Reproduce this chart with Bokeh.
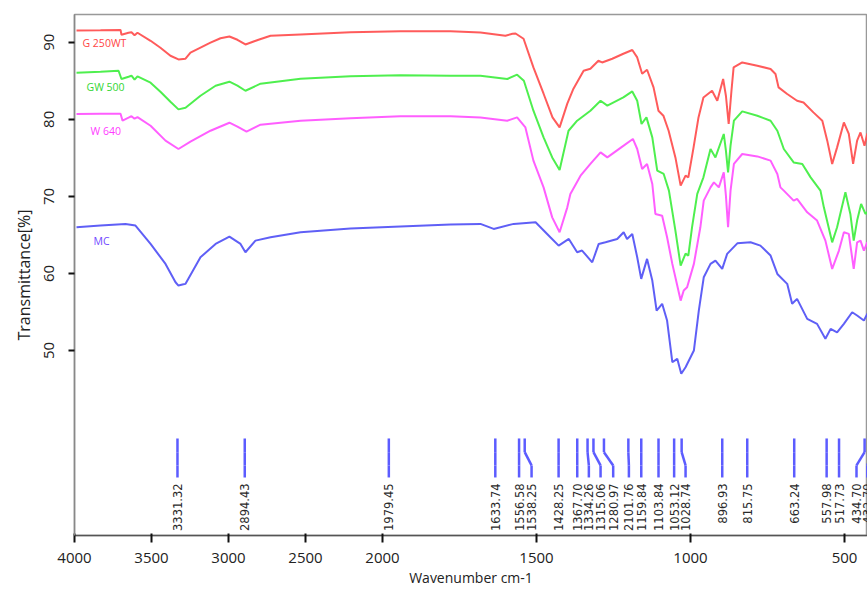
import math
from bokeh.plotting import figure
from bokeh.models import ColumnDataSource, CustomJSTransform, FixedTicker, Range1d, Title
from bokeh.transform import transform
from bokeh.core.properties import value
from bokeh.embed import file_html
from bokeh.resources import INLINE

# ---------------- data (wavenumber cm-1, transmittance %) ----------------
g250_wn = [3987, 3831, 3701, 3695, 3649, 3630, 3610, 3591, 3506, 3442, 3377, 3325, 3279, 3247, 3182, 3117,
           3052, 2994, 2942, 2890, 2805, 2727, 2532, 2208, 1942, 1779, 1682, 1601, 1578, 1568, 1542, 1510,
           1477, 1448, 1425, 1400, 1380, 1347, 1325, 1299, 1287, 1254, 1218, 1189, 1173, 1157, 1141, 1120,
           1104, 1088, 1071, 1049, 1032, 1016, 1007, 990, 974, 958, 930, 913, 894, 885, 876, 867, 860, 832,
           783, 740, 724, 714, 686, 654, 633, 601, 572, 556, 540, 524, 502, 486, 472, 459, 448, 435, 426, 415]
g250_t = [91.53, 91.56, 91.60, 90.97, 91.23, 91.30, 90.91, 91.23, 90.19, 89.29, 88.25, 87.77, 87.86, 88.64, 89.29, 89.94,
          90.52, 90.75, 90.32, 89.71, 90.32, 90.84, 91.01, 91.30, 91.43, 91.43, 91.27, 90.84, 91.10, 91.14, 90.45, 86.73,
          83.32, 80.25, 78.95, 82.03, 83.97, 86.30, 86.56, 87.60, 87.38, 87.86, 88.51, 88.99, 88.03, 85.92, 86.43, 84.14,
          81.12, 80.47, 78.52, 75.06, 71.39, 72.69, 72.47, 76.36, 80.25, 82.84, 83.71, 82.41, 85.23, 83.06, 79.39, 83.71, 86.73, 87.38,
          86.95, 86.53, 85.88, 84.14, 83.28, 82.41, 82.19, 80.90, 79.82, 77.23, 74.21, 76.36, 79.60, 78.10, 74.21, 77.23, 78.30, 76.58, 78.14, 77.90]

gw500_wn = [3987, 3831, 3714, 3695, 3649, 3630, 3610, 3591, 3506, 3442, 3377, 3325, 3279, 3182, 3084, 2994,
            2942, 2890, 2792, 2532, 2208, 1942, 1779, 1682, 1595, 1563, 1541, 1510, 1477, 1449, 1425, 1396,
            1368, 1325, 1292, 1270, 1218, 1189, 1173, 1159, 1143, 1124, 1108, 1087, 1070, 1049, 1032, 1016,
            1007, 995, 978, 958, 935, 919, 892, 885, 878, 870, 859, 832, 783, 740, 718, 697, 665, 637, 610,
            578, 567, 540, 524, 497, 481, 470, 459, 446, 432, 415]
gw500_t = [86.05, 86.18, 86.30, 85.23, 85.53, 85.66, 85.14, 85.57, 84.75, 83.58, 82.29, 81.29, 81.51, 83.06, 84.36, 84.88,
           84.36, 83.71, 84.62, 85.27, 85.59, 85.72, 85.66, 85.66, 85.23, 85.79, 85.01, 81.12, 77.66, 75.06, 73.43, 78.52,
           79.82, 81.12, 82.41, 81.77, 82.84, 83.62, 82.41, 79.39, 80.25, 77.66, 73.34, 72.91, 70.75, 65.56, 61.02, 62.58,
           62.32, 65.99, 70.32, 72.47, 76.15, 75.06, 78.10, 75.93, 73.12, 76.58, 79.82, 81.03, 80.47, 79.82, 78.52, 76.15, 74.41, 74.21, 72.47,
           70.75, 68.58, 64.04, 65.99, 70.53, 67.72, 64.26, 66.86, 69.02, 67.72, 68.41]

w640_wn = [3987, 3831, 3701, 3688, 3649, 3630, 3610, 3591, 3506, 3409, 3325, 3247, 3117, 2994, 2942, 2883,
           2792, 2532, 2208, 1942, 1779, 1682, 1595, 1563, 1536, 1510, 1477, 1449, 1425, 1400, 1390, 1357,
           1325, 1292, 1270, 1217, 1187, 1173, 1157, 1141, 1124, 1114, 1092, 1076, 1059, 1043, 1032, 1022,
           1011, 989, 968, 957, 935, 924, 908, 892, 885, 878, 870, 859, 832, 783, 740, 718, 708, 697, 665,
           654, 621, 589, 562, 540, 518, 502, 486, 470, 459, 448, 437, 426, 415]
w640_t = [80.69, 80.73, 80.73, 79.82, 80.21, 80.41, 80.08, 80.28, 79.17, 77.23, 76.15, 77.10, 78.52, 79.56, 79.04, 78.40,
          79.30, 79.82, 80.15, 80.41, 80.41, 80.25, 79.82, 80.25, 78.95, 74.64, 71.17, 67.28, 65.34, 68.58, 70.32, 72.69,
          74.21, 75.71, 75.06, 76.58, 77.45, 76.15, 73.56, 74.21, 71.61, 67.72, 67.50, 64.69, 61.24, 58.43, 56.48, 57.78,
          58.21, 61.24, 65.99, 69.45, 71.17, 71.82, 71.17, 73.12, 70.10, 65.99, 70.75, 74.21, 75.50, 75.19, 74.64, 72.91, 71.17, 70.75, 69.45,
          69.67, 67.93, 66.86, 64.26, 60.59, 62.97, 65.34, 65.13, 60.59, 64.04, 64.26, 62.97, 64.04, 63.60]

mc_wn = [3987, 3831, 3669, 3604, 3506, 3409, 3344, 3325, 3299, 3279, 3182, 3084, 2994, 2922, 2890, 2825,
         2727, 2532, 2208, 1942, 1779, 1682, 1639, 1574, 1503, 1455, 1428, 1395, 1368, 1352, 1319, 1298,
         1276, 1238, 1217, 1206, 1189, 1173, 1160, 1141, 1124, 1110, 1092, 1076, 1059, 1043, 1030, 1016,
         989, 973, 957, 935, 919, 897, 881, 848, 805, 773, 740, 718, 686, 670, 654, 621, 589, 562, 545,
         524, 502, 475, 459, 437, 426, 415]
mc_t = [65.99, 66.21, 66.43, 66.21, 63.83, 61.24, 58.86, 58.43, 58.56, 58.65, 62.10, 63.83, 64.78, 63.83, 62.75, 64.26,
        64.69, 65.34, 65.82, 66.08, 66.34, 66.43, 65.78, 66.43, 66.64, 64.69, 63.61, 64.48, 62.75, 62.97, 61.45, 63.83,
        64.04, 64.48, 65.34, 64.48, 65.13, 62.10, 59.30, 61.89, 59.08, 55.19, 56.06, 53.89, 48.48, 48.92, 46.98, 47.83,
        50.00, 55.19, 59.50, 61.24, 61.67, 60.59, 62.54, 63.91, 64.04, 63.61, 62.32, 59.94, 58.65, 56.06, 56.70, 54.11, 53.46, 51.52, 52.81,
        52.37, 53.46, 54.97, 54.54, 53.89, 54.76, 54.90]

series_names = ["G 250WT", "GW 500", "W 640", "MC"]

peak_wn = [3331.32, 2894.43, 1979.45, 1633.74, 1556.58, 1538.25, 1428.25, 1367.70, 1334.26, 1315.06, 1280.97,
           1201.76, 1159.84, 1103.84, 1053.12, 1028.74, 896.93, 815.75, 663.24, 557.98, 517.73, 434.70, 410.0]
peak_labels = ["3331.32", "2894.43", "1979.45", "1633.74", "1556.58", "1538.25", "1428.25", "1367.70", "1334.26",
               "1315.06", "1280.97", "2101.76", "1159.84", "1103.84", "1053.12", "1028.74", "896.93", "815.75",
               "663.24", "557.98", "517.73", "434.70", "432.79"]
peak_label_wn = [3331.32, 2894.43, 1979.45, 1633.74, 1556.58, 1516.0, 1428.25, 1367.70, 1330.0, 1292.0, 1251.0,
                 1200.0, 1159.84, 1103.84, 1053.12, 1016.0, 896.93, 815.75, 663.24, 557.98, 517.73, 461.0, 426.0]

x_tick_wn = [4000, 3500, 3000, 2500, 2000, 1500, 1000, 500]
y_ticks = [50, 60, 70, 80, 90]

# ---------------- styles / layout ----------------
colors = ["#ff5252", "#45ee45", "#ff55ff", "#5656f6"]
label_colors = ["#ff4545", "#33d633", "#ff3cff", "#7048ff"]
label_pos = [(3948, 89.94), (3922, 84.23), (3896, 78.53), (3877, 64.26)]

# piecewise wavenumber axis: region above 2000 cm-1 is compressed by 2
BREAK = 2000.0
def to_axis(w):
    return BREAK + (w - BREAK) / 2.0 if w > BREAK else w

wn_tf = CustomJSTransform(
    func="return x > 2000 ? 2000 + (x - 2000) / 2 : x;",
    v_func="""
    const out = new Float64Array(xs.length);
    for (let i = 0; i < xs.length; i++) {
        const w = xs[i];
        out[i] = w > 2000 ? 2000 + (w - 2000) / 2 : w;
    }
    return out;
    """,
)

p = figure(width=867, height=592, output_backend="svg", toolbar_location=None,
           x_range=Range1d(to_axis(4000), 425.3), y_range=Range1d(26.0, 93.6),
           min_border_left=74, min_border_right=0, min_border_top=14, min_border_bottom=57)

p.background_fill_color = "white"
p.border_fill_color = "white"
p.outline_line_color = "#999999"
p.outline_line_width = 1.5
p.xgrid.visible = False
p.ygrid.visible = False

wn_lists = [g250_wn, gw500_wn, w640_wn, mc_wn]
t_lists = [g250_t, gw500_t, w640_t, mc_t]
for wn, t, c in zip(wn_lists, t_lists, colors):
    src = ColumnDataSource(dict(x=wn, y=t))
    p.line(x=transform("x", wn_tf), y="y", source=src, line_color=c, line_width=2, line_alpha=0.95)

# series labels
lab_src = ColumnDataSource(dict(x=[q[0] for q in label_pos], y=[q[1] for q in label_pos],
                                text=series_names, color=label_colors))
p.text(x=transform("x", wn_tf), y="y", text="text", text_color="color", source=lab_src,
       text_align="left", text_baseline="middle", text_font=value("Open Sans"), text_font_size="10.5px")

# peak markers (vertical leaders bending toward their labels)
y_top, y_b1, y_b2, y_bot, y_lab = 38.59, 36.81, 35.09, 33.53, 32.76
x0 = []; x1 = []; y0 = []; y1 = []
for w, lw in zip(peak_wn, peak_label_wn):
    x0 += [w, w, lw]
    x1 += [w, lw, lw]
    y0 += [y_top, y_b1, y_b2]
    y1 += [y_b1, y_b2, y_bot]
seg_src = ColumnDataSource(dict(x0=x0, x1=x1, y0=y0, y1=y1))
p.segment(x0=transform("x0", wn_tf), x1=transform("x1", wn_tf), y0="y0", y1="y1", source=seg_src,
          line_color="#5c5cff", line_width=2.5, line_join="round")

pk_src = ColumnDataSource(dict(x=peak_label_wn, y=[y_lab] * len(peak_label_wn), text=peak_labels))
p.text(x=transform("x", wn_tf), y="y", text="text", source=pk_src, angle=math.pi / 2,
       text_align="right", text_baseline="middle", text_font=value("DejaVu Sans"),
       text_font_size="11.5px", text_color="#2a2a2a")

# axes
p.xaxis.ticker = FixedTicker(ticks=[to_axis(w) for w in x_tick_wn])
p.xaxis.major_label_overrides = {int(to_axis(w)): str(w) for w in x_tick_wn}
p.xaxis.minor_tick_line_color = None
p.xaxis.major_tick_in = 2
p.xaxis.major_tick_out = 7
p.xaxis.major_tick_line_width = 2
p.xaxis.major_tick_line_color = "#111111"
p.xaxis.axis_line_color = "#555555"
p.xaxis.axis_line_width = 1.5
p.xaxis.major_label_text_font = "Open Sans"
p.xaxis.major_label_text_font_size = "15px"
p.xaxis.major_label_text_color = "#222222"
p.xaxis.major_label_standoff = 10
p.xaxis.axis_label = "Wavenumber cm-1"
p.xaxis.axis_label_text_font = "Open Sans"
p.xaxis.axis_label_text_font_style = "normal"
p.xaxis.axis_label_text_font_size = "14px"
p.xaxis.axis_label_text_color = "#222222"
p.xaxis.axis_label_standoff = 2

p.yaxis.ticker = FixedTicker(ticks=y_ticks)
p.yaxis.minor_tick_line_color = None
p.yaxis.major_tick_in = 0
p.yaxis.major_tick_out = 6
p.yaxis.major_tick_line_width = 2
p.yaxis.major_tick_line_color = "#111111"
p.yaxis.axis_line_color = "#888888"
p.yaxis.axis_line_width = 1.5
p.yaxis.major_label_orientation = "vertical"
p.yaxis.major_label_text_font = "Open Sans"
p.yaxis.major_label_text_font_size = "15px"
p.yaxis.major_label_text_color = "#222222"
p.yaxis.major_label_standoff = 14

ytitle = Title(text="Transmittance[%]", align="center", offset=68, standoff=13,
               text_font="Open Sans", text_font_size="16px", text_font_style="normal",
               text_color="#222222")
p.add_layout(ytitle, "left")

open("out.html", "w").write(file_html(p, INLINE))
